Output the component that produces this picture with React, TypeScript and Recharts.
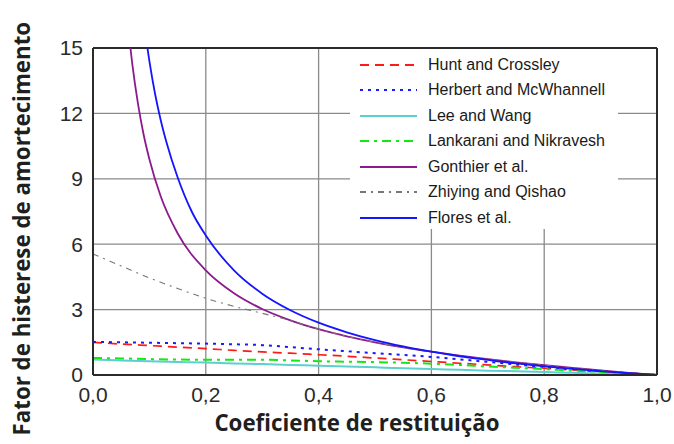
import { CartesianGrid, Legend, Line, LineChart, ReferenceLine, XAxis, YAxis } from 'recharts';

// coeficiente de restituição (e) grid shared by the smooth-bounded models
const eGrid = [0, 0.05, 0.1, 0.15, 0.2, 0.25, 0.3, 0.35, 0.4, 0.45, 0.5, 0.55, 0.6, 0.65, 0.7, 0.75, 0.8, 0.85, 0.9, 0.95, 1];

const huntCrossley = [1.5, 1.42, 1.35, 1.28, 1.21, 1.13, 1.06, 1.0, 0.93, 0.86, 0.78, 0.7, 0.62, 0.54, 0.46, 0.38, 0.31, 0.23, 0.15, 0.08, 0];
const herbertMcWhannell = [1.52, 1.5, 1.48, 1.46, 1.44, 1.41, 1.37, 1.28, 1.18, 1.09, 1.0, 0.92, 0.83, 0.72, 0.6, 0.48, 0.37, 0.27, 0.17, 0.08, 0];
const leeWang = [0.71, 0.67, 0.63, 0.6, 0.57, 0.53, 0.5, 0.46, 0.43, 0.39, 0.35, 0.31, 0.27, 0.24, 0.2, 0.17, 0.14, 0.1, 0.07, 0.03, 0];
const lankaraniNikravesh = [0.78, 0.76, 0.73, 0.71, 0.7, 0.7, 0.7, 0.67, 0.63, 0.61, 0.59, 0.56, 0.52, 0.46, 0.39, 0.33, 0.27, 0.2, 0.14, 0.07, 0];
const zhiyingQishao = [5.55, 5.0, 4.45, 3.97, 3.52, 3.15, 2.83, 2.5, 2.1, 1.77, 1.5, 1.27, 1.06, 0.88, 0.72, 0.58, 0.45, 0.32, 0.21, 0.1, 0];

// models that blow up near e = 0
const eGonthier = [0.06, 0.07, 0.08, 0.09, 0.1, 0.12, 0.15, 0.2, 0.25, 0.3, 0.35, 0.4, 0.45, 0.5, 0.55, 0.6, 0.65, 0.7, 0.75, 0.8, 0.85, 0.9, 0.95, 1];
const gonthier = [16.6, 14.2, 12.4, 11.0, 9.9, 8.2, 6.5, 4.8, 3.75, 3.03, 2.51, 2.1, 1.77, 1.5, 1.27, 1.07, 0.89, 0.73, 0.58, 0.45, 0.33, 0.21, 0.1, 0];
const eFlores = [0.09, 0.1, 0.11, 0.12, 0.13, 0.15, 0.175, 0.2, 0.25, 0.3, 0.35, 0.4, 0.45, 0.5, 0.55, 0.6, 0.65, 0.7, 0.75, 0.8, 0.85, 0.9, 0.95, 1];
const flores = [16.2, 14.4, 12.9, 11.7, 10.7, 9.07, 7.5, 6.4, 4.8, 3.73, 2.97, 2.4, 1.96, 1.6, 1.31, 1.07, 0.86, 0.69, 0.53, 0.4, 0.28, 0.18, 0.08, 0];

const xTicks = [0, 0.2, 0.4, 0.6, 0.8, 1];
const yTicks = [0, 3, 6, 9, 12, 15];

const zip = (xs: number[], ys: number[]) => xs.map((e, i) => ({ e, v: ys[i] }));

const series = [
  { name: 'Hunt and Crossley', data: zip(eGrid, huntCrossley), color: '#ff1a1a', dash: '9 6', width: 1.7 },
  { name: 'Herbert and McWhannell', data: zip(eGrid, herbertMcWhannell), color: '#1a1aff', dash: '3 5', width: 2 },
  { name: 'Lee and Wang', data: zip(eGrid, leeWang), color: '#5ccfcf', dash: undefined, width: 2 },
  { name: 'Lankarani and Nikravesh', data: zip(eGrid, lankaraniNikravesh), color: '#14e814', dash: '9 5 3 5', width: 2 },
  { name: 'Gonthier et al.', data: zip(eGonthier, gonthier), color: '#8c1a8c', dash: undefined, width: 1.8 },
  { name: 'Zhiying and Qishao', data: zip(eGrid, zhiyingQishao), color: '#777777', dash: '6 5 2 5', width: 1.1 },
  { name: 'Flores et al.', data: zip(eFlores, flores), color: '#1414ff', dash: undefined, width: 1.8 },
];

const comma = (v: number) => v.toFixed(1).replace('.', ',');

const LegendBox = () => (
  <div style={{ background: '#fff', width: 268, height: 180, paddingTop: 3, boxSizing: 'border-box' }}>
    {series.map((s) => (
      <div key={s.name} style={{ display: 'flex', alignItems: 'center', height: 25.5 }}>
        <svg width={57} height={6} style={{ marginLeft: 10 }}>
          <line x1={0} y1={3} x2={57} y2={3} stroke={s.color} strokeWidth={2} strokeDasharray={s.dash} />
        </svg>
        <span style={{ marginLeft: 11, fontFamily: '"Liberation Sans", Arial, sans-serif', fontSize: 16, color: '#1a1a1a' }}>
          {s.name}
        </span>
      </div>
    ))}
  </div>
);

const tickStyle = { fontFamily: '"Liberation Sans", Arial, sans-serif', fontSize: 21, fill: '#2a2a2a' };
const titleStyle = { fontFamily: '"Open Sans", sans-serif', fontWeight: 700, fill: '#1f1f1f' };

export default function App() {
  return (
    <div style={{ position: 'absolute', left: 0, top: 0, background: '#fff' }}>
      <LineChart width={674} height={444} margin={{ top: 48, right: 17, bottom: 19, left: 33 }}>
        <CartesianGrid stroke="#8a8a8a" strokeWidth={1.3} />
        <XAxis
          type="number"
          dataKey="e"
          domain={[0, 1]}
          ticks={xTicks}
          tickFormatter={comma}
          tickLine={false}
          axisLine={{ stroke: '#2b2b2b', strokeWidth: 2 }}
          tick={tickStyle}
          tickMargin={6}
          height={50}
          allowDuplicatedCategory={false}
          label={{ value: 'Coeficiente de restituição', position: 'insideBottom', offset: -6, dx: -18, style: { ...titleStyle, fontSize: 22.3 } }}
        />
        <YAxis
          type="number"
          domain={[0, 15]}
          ticks={yTicks}
          allowDataOverflow
          tickLine={false}
          axisLine={{ stroke: '#2b2b2b', strokeWidth: 2 }}
          tick={tickStyle}
          tickMargin={4}
          width={60}
          label={{
            value: 'Fator de histerese de amortecimento',
            angle: -90,
            position: 'insideLeft',
            offset: -11,
            dy: 224,
            style: { ...titleStyle, fontSize: 22.3 },
          }}
        />
        <ReferenceLine y={15} stroke="#2b2b2b" strokeWidth={2} />
        <ReferenceLine x={1} stroke="#2b2b2b" strokeWidth={2} />
        {series.map((s) => (
          <Line
            key={s.name}
            data={s.data}
            dataKey="v"
            name={s.name}
            type="monotone"
            stroke={s.color}
            strokeWidth={s.width}
            strokeDasharray={s.dash}
            dot={false}
            activeDot={false}
            isAnimationActive={false}
          />
        ))}
        <Legend
          layout="vertical"
          align="center"
          verticalAlign="middle"
          content={LegendBox}
          wrapperStyle={{ left: 350, top: 49, width: 268, height: 180 }}
        />
      </LineChart>
    </div>
  );
}
